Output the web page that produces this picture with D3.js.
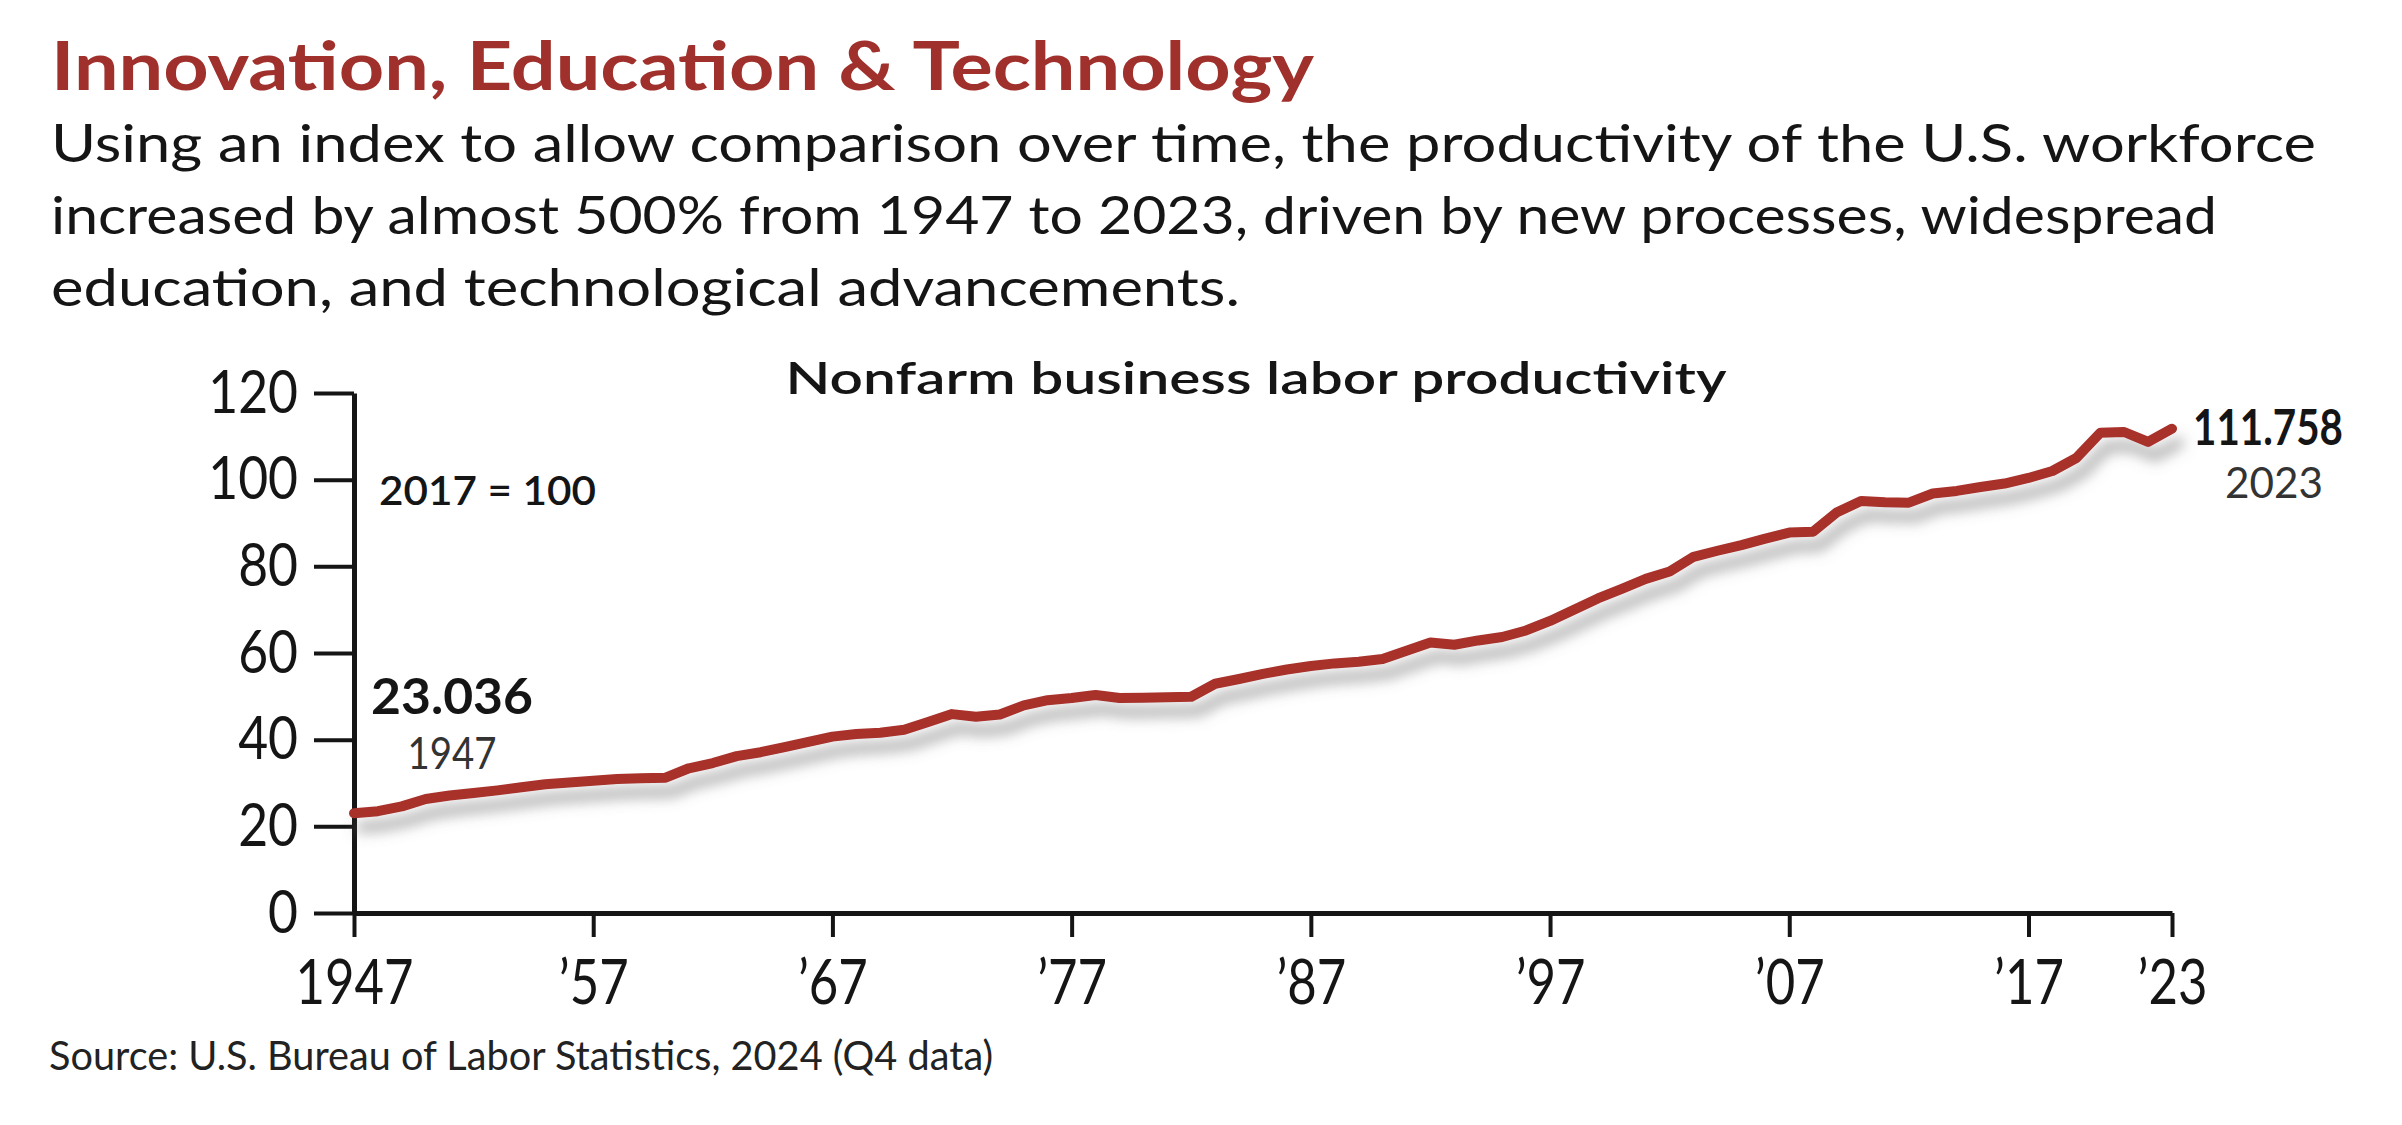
<!DOCTYPE html>
<html>
<head>
<meta charset="utf-8">
<script src="https://cdn.jsdelivr.net/npm/d3@7"></script>
<style>
  html, body { margin: 0; padding: 0; background: #fff; }
  svg { display: block; }
  text { font-family: Lato, "Noto Sans", sans-serif; }
</style>
</head>
<body>
<svg id="chart" width="2402" height="1125"></svg>
<script>
// ---------- data ----------
const years = [
  1947,1948,1949,1950,1951,1952,1953,1954,1955,1956,
  1957,1958,1959,1960,1961,1962,1963,1964,1965,1966,
  1967,1968,1969,1970,1971,1972,1973,1974,1975,1976,
  1977,1978,1979,1980,1981,1982,1983,1984,1985,1986,
  1987,1988,1989,1990,1991,1992,1993,1994,1995,1996,
  1997,1998,1999,2000,2001,2002,2003,2004,2005,2006,
  2007,2008,2009,2010,2011,2012,2013,2014,2015,2016,
  2017,2018,2019,2020,2021,2022,2023
];
const productivity = [
  23.036, 23.5, 24.6, 26.3, 27.1, 27.7, 28.3, 29.0, 29.7, 30.1,
  30.5, 30.9, 31.1, 31.2, 33.4, 34.6, 36.2, 37.1, 38.3, 39.5,
  40.7, 41.3, 41.6, 42.3, 44.1, 45.9, 45.3, 45.8, 47.9, 49.1,
  49.6, 50.3, 49.6, 49.7, 49.8, 49.9, 52.9, 54.0, 55.2, 56.2,
  57.0, 57.6, 58.0, 58.6, 60.5, 62.4, 61.9, 62.9, 63.7, 65.2,
  67.4, 70.0, 72.6, 74.8, 77.1, 78.8, 82.2, 83.6, 84.9, 86.4,
  87.8, 88.0, 92.5, 95.1, 94.8, 94.7, 96.8, 97.4, 98.3, 99.1,
  100.4, 102.0, 105.0, 110.8, 111.0, 108.7, 111.758
];
const yTicks = [0, 20, 40, 60, 80, 100, 120];
const xTicks = [1947, 1957, 1967, 1977, 1987, 1997, 2007, 2017, 2023];
const xTickLabels = ["1947", "\u201957", "\u201967", "\u201977", "\u201987", "\u201997", "\u201907", "\u201917", "\u201923"];

const titleText = "Innovation, Education & Technology";
const subtitleLines = [
  "Using an index to allow comparison over time, the productivity of the U.S. workforce",
  "increased by almost 500% from 1947 to 2023, driven by new processes, widespread",
  "education, and technological advancements."
];
const chartTitle = "Nonfarm business labor productivity";
const baseNote = "2017 = 100";
const startLabel = { value: "23.036", year: "1947" };
const endLabel = { value: "111.758", year: "2023" };
const sourceText = "Source: U.S. Bureau of Labor Statistics, 2024 (Q4 data)";

// ---------- layout ----------
const svg = d3.select("#chart");
const RED = "#a0302b";
const LINE = "#a8302b";
const INK = "#151515";

const x = d3.scaleLinear().domain([1947, 2023]).range([354, 2172]);
const y = d3.scaleLinear().domain([0, 120]).range([913, 393]);

// shadow filter
const defs = svg.append("defs");
const f = defs.append("filter").attr("id", "shadow")
  .attr("x", "-5%").attr("y", "-20%").attr("width", "115%").attr("height", "160%");
f.append("feDropShadow").attr("dx", 7).attr("dy", 14).attr("stdDeviation", 7)
  .attr("flood-color", "#707070").attr("flood-opacity", 0.6);

function fitText(sel, w, adjust) {
  sel.attr("textLength", w).attr("lengthAdjust", adjust || "spacing");
}

// title
svg.append("text").attr("x", 51).attr("y", 90)
  .attr("font-size", 66).attr("font-weight", 700).attr("fill", RED)
  .text(titleText).call(fitText, 1263, "spacingAndGlyphs");

const subW = [2265, 2166, 1189];
const subY = [162, 234, 306];
subtitleLines.forEach((t, i) => {
  svg.append("text").attr("x", 51).attr("y", subY[i])
    .attr("font-size", 53).attr("fill", INK)
    .text(t).call(fitText, subW[i], "spacingAndGlyphs");
});

// chart title
svg.append("text").attr("x", 1256).attr("y", 394).attr("text-anchor", "middle")
  .attr("font-size", 45).attr("font-weight", 600).attr("fill", INK)
  .text(chartTitle).call(fitText, 941, "spacingAndGlyphs");

// axes
const yAxis = d3.axisLeft(y).tickValues(yTicks).tickSize(40).tickSizeOuter(0).tickPadding(16);
const xAxis = d3.axisBottom(x).tickValues(xTicks).tickSize(24).tickSizeOuter(0).tickPadding(23)
  .tickFormat((d, i) => xTickLabels[i]);

const gy = svg.append("g").attr("transform", `translate(${x(1947)},0)`).call(yAxis);
const gx = svg.append("g").attr("transform", `translate(0,${y(0)})`).call(xAxis);

[gx, gy].forEach(g => {
  g.select(".domain").attr("stroke", INK).attr("stroke-width", 5);
  g.selectAll(".tick line").attr("stroke", INK).attr("stroke-width", 4);
  g.selectAll(".tick text").attr("fill", INK)
    .style("font-family", "Lato, 'Noto Sans', sans-serif");
});
gy.selectAll(".tick text").attr("font-size", 60);
gx.selectAll(".tick text").attr("font-size", 62);
// narrow digits like the reference
gy.selectAll(".tick text").each(function () {
  const w = this.getComputedTextLength();
  d3.select(this).attr("textLength", w * 0.86).attr("lengthAdjust", "spacingAndGlyphs");
});
gx.selectAll(".tick text").each(function () {
  const w = this.getComputedTextLength();
  d3.select(this).attr("textLength", w * 0.82).attr("lengthAdjust", "spacingAndGlyphs");
});

// line
const pts = years.map((yr, i) => [yr, productivity[i]]);
const line = d3.line().x(d => x(d[0])).y(d => y(d[1]));
svg.append("path").datum(pts)
  .attr("d", line)
  .attr("fill", "none")
  .attr("stroke", LINE)
  .attr("stroke-width", 10)
  .attr("stroke-linejoin", "round")
  .attr("stroke-linecap", "round")
  .attr("filter", "url(#shadow)");

// annotations
svg.append("text").attr("x", 379).attr("y", 505)
  .attr("font-size", 40).attr("font-weight", 600).attr("fill", INK)
  .text(baseNote).call(fitText, 217, "spacingAndGlyphs");

svg.append("text").attr("x", 371).attr("y", 714)
  .attr("font-size", 49).attr("font-weight", 700).attr("fill", INK)
  .text(startLabel.value).call(fitText, 162, "spacingAndGlyphs");
svg.append("text").attr("x", 452).attr("y", 769).attr("text-anchor", "middle")
  .attr("font-size", 44).attr("fill", "#333")
  .text(startLabel.year).call(fitText, 89, "spacingAndGlyphs");

svg.append("text").attr("x", 2193).attr("y", 445)
  .attr("font-size", 50).attr("font-weight", 700).attr("fill", INK)
  .text(endLabel.value).call(fitText, 150, "spacingAndGlyphs");
svg.append("text").attr("x", 2274).attr("y", 498).attr("text-anchor", "middle")
  .attr("font-size", 43).attr("fill", "#333")
  .text(endLabel.year).call(fitText, 98, "spacingAndGlyphs");

// source
svg.append("text").attr("x", 49).attr("y", 1070)
  .attr("font-size", 41).attr("fill", "#222")
  .text(sourceText).call(fitText, 944, "spacingAndGlyphs");
</script>
</body>
</html>
